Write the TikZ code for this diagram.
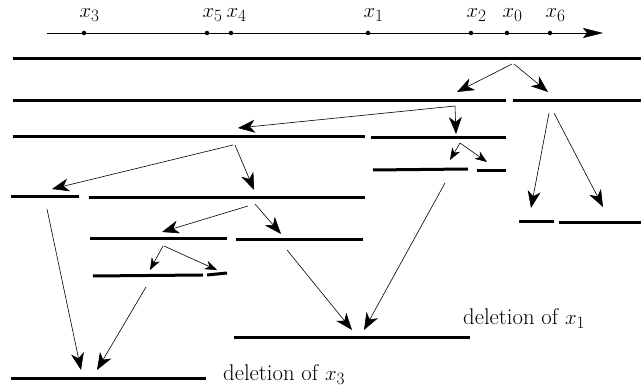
\documentclass[tikz,border=0pt]{standalone}
\usetikzlibrary{arrows.meta}
\begin{document}
\begin{tikzpicture}[x=1pt,y=-1pt,
  seg/.style={line width=3pt},
  arr/.style={line width=0.6pt,-{Stealth[length=17pt,width=13pt,inset=5pt]}},
  sarr/.style={line width=0.6pt,-{Stealth[length=12pt,width=9pt,inset=3.5pt]}},
  axarr/.style={line width=0.6pt,-{Stealth[length=20pt,width=10pt,inset=4pt]}},
  lab/.style={font=\fontsize{22.7}{27}\selectfont,inner sep=0pt},
  dot/.style={circle,fill=black,inner sep=0pt,minimum size=4.5pt}]
\useasboundingbox (0,0) rectangle (641,387);
% axis
\coordinate (axs) at (47,33);
\coordinate (axe) at (603,33);
\draw[axarr] (axs) -- (axe);
\foreach \n/\xx in {3/84,5/207,4/231,1/368,2/471,0/507,6/550}{
  \node[dot] (d\n) at (\xx,33) {};
  \node[lab,anchor=base west] (l\n) at (\xx-4.5,18) {$x_{\n}$};
}
% segments
\draw[seg] (13,59) -- (641,59);
\draw[seg] (13,101) -- (506,101);
\draw[seg] (513,101) -- (641,101);
\draw[seg] (13,137) -- (365,137);
\draw[seg] (371,138) -- (506,138);
\draw[seg] (11,197) -- (79,197);
\draw[seg] (89,198) -- (365,198);
\draw[seg] (373,170) -- (468,169);
\draw[seg] (477,171) -- (506,171);
\draw[seg] (519,222) -- (554,222);
\draw[seg] (559,223) -- (641,223);
\draw[seg] (90,239) -- (227,239);
\draw[seg] (236,240) -- (363,240);
\draw[seg] (93,276) -- (203,275);
\draw[seg] (207,275) -- (227,273);
\draw[seg] (234,338) -- (470,338);
\draw[seg] (11,379) -- (206,379);
% labels
\node[lab,anchor=base west] (del1) at (463,325) {deletion of $x_1$};
\node[lab,anchor=base west] (del3) at (223,381) {deletion of $x_3$};
% arrow end points
\coordinate (s1) at (512,64);  \coordinate (e1) at (457,92);
\coordinate (s2) at (514,64);  \coordinate (e2) at (548,92);
\coordinate (s3) at (455,106); \coordinate (e3) at (238,128);
\coordinate (s4) at (455,106); \coordinate (e4) at (456,134);
\coordinate (s5) at (549,113); \coordinate (e5) at (531,208);
\coordinate (s6) at (554,113); \coordinate (e6) at (603,207);
\coordinate (s7) at (233,145); \coordinate (e7) at (52,189);
\coordinate (s8) at (235,145); \coordinate (e8) at (254,190);
\coordinate (s9) at (460,143); \coordinate (e9) at (450,160);
\coordinate (s10) at (460,143); \coordinate (e10) at (487,162);
\coordinate (s11) at (248,206); \coordinate (e11) at (162,232);
\coordinate (s12) at (255,204); \coordinate (e12) at (281,234);
\coordinate (s13) at (163,246); \coordinate (e13) at (150,270);
\coordinate (s14) at (164,246); \coordinate (e14) at (217,270);
\coordinate (s15) at (47,209);  \coordinate (e15) at (81,370);
\coordinate (s16) at (146,287); \coordinate (e16) at (97,370);
\coordinate (s17) at (287,250); \coordinate (e17) at (352,330);
\coordinate (s18) at (445,183); \coordinate (e18) at (364,330);
\foreach \i in {1,2,3,4,5,6,7,8,11,12,15,16,17,18}{\draw[arr] (s\i) -- (e\i);}
\foreach \i in {9,10,13,14}{\draw[sarr] (s\i) -- (e\i);}
\end{tikzpicture}
\end{document}
